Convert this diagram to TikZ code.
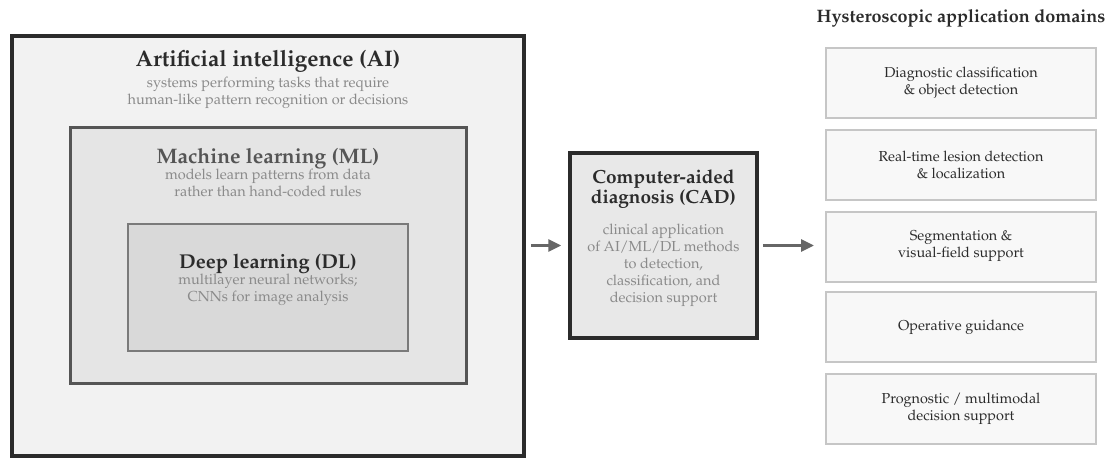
\documentclass[tikz,border=0pt]{standalone}
\usepackage[T1]{fontenc}
\usepackage{mathpazo}
\usetikzlibrary{arrows.meta}

\definecolor{aifill}{HTML}{F2F2F2}
\definecolor{mlfill}{HTML}{E5E5E5}
\definecolor{dlfill}{HTML}{D9D9D9}
\definecolor{cadfill}{HTML}{E8E8E8}
\definecolor{domfill}{HTML}{F8F8F8}
\definecolor{domedge}{HTML}{C6C6C6}
\definecolor{dledge}{HTML}{7A7A7A}
\definecolor{darkink}{HTML}{2B2B2B}
\definecolor{midink}{HTML}{555555}
\definecolor{lightink}{HTML}{8A8A8A}
\definecolor{arrowgray}{HTML}{666666}

\tikzset{%
  layer box/.style={
    rectangle,
    draw,
    inner sep=0pt
  },
  ai box/.style={layer box, draw=darkink, fill=aifill, line width=3.5pt},
  ml box/.style={layer box, draw=midink, fill=mlfill, line width=3pt},
  dl box/.style={layer box, draw=dledge, fill=dlfill, line width=2.5pt},
  cad box/.style={layer box, draw=darkink, fill=cadfill, line width=3.5pt,
    minimum width=187pt, minimum height=185pt},
  domain box/.style={layer box, draw=domedge, fill=domfill, line width=2pt,
    minimum width=270pt, minimum height=70pt,
    align=center, text=darkink, font=\fontsize{14.4}{17}\selectfont},
  box title/.style={anchor=base, font=\fontsize{#1}{20}\selectfont\bfseries},
  box title/.default=19,
  box text/.style={align=center, text=lightink, font=\fontsize{14.5}{17}\selectfont},
  flow/.style={draw=arrowgray, line width=3pt, -{Triangle[length=13pt,width=12pt]}}
}

\begin{document}
\begin{tikzpicture}[x=1pt, y=-1pt]
  \useasboundingbox (0,0) rectangle (1113,468);
  % nested AI / ML / DL
  \node [ai box, minimum width=512pt, minimum height=420pt] (ai) at (268,246) {};
  \node [ml box, minimum width=396pt, minimum height=255pt] (ml) at (268,255.5) {};
  \node [dl box, minimum width=280pt, minimum height=127pt] (dl) at (268,287.5) {};
  \node [box title=22.5, text=darkink] (ai-title) at (268,67) {Artificial intelligence (AI)};
  \node [box text] (ai-text) at (268,93) {systems performing tasks that require\\human-like pattern recognition or decisions};
  \node [box title=21, text=midink] (ml-title) at (268,163) {Machine learning (ML)};
  \node [box text] (ml-text) at (268,183) {models learn patterns from data\\rather than hand-coded rules};
  \node [box title=20, text=darkink] (dl-title) at (268,268) {Deep learning (DL)};
  \node [box text] (dl-text) at (268,289.5) {multilayer neural networks;\\CNNs for image analysis};
  % CAD
  \node [cad box] (cad) at (663.5,245.5) {};
  \node [box title, text=darkink, align=center, anchor=center] (cad-title) at (663.5,189) {Computer-aided\\diagnosis (CAD)};
  \node [box text] (cad-text) at (663.5,265) {clinical application\\of AI/ML/DL methods\\to detection,\\classification, and\\decision support};
  % application domains
  \node [anchor=base, text=darkink, font=\fontsize{18}{20}\selectfont\bfseries] (dom-head) at (961,23) {Hysteroscopic application domains};
  \node [domain box] (dom-1) at (961,83) {Diagnostic classification\\\& object detection};
  \node [domain box] (dom-2) at (961,165) {Real-time lesion detection\\\& localization};
  \node [domain box] (dom-3) at (961,246.5) {Segmentation \&\\visual-field support};
  \node [domain box] (dom-4) at (961,327) {Operative guidance};
  \node [domain box] (dom-5) at (961,409) {Prognostic / multimodal\\decision support};
  \draw [flow, shorten <=5pt, shorten >=7pt] (cad.west -| ai.east) -- (cad.west);
  \draw [flow, shorten <=4pt, shorten >=11pt] (cad.east) -- (cad.east -| dom-3.west);
\end{tikzpicture}
\end{document}
